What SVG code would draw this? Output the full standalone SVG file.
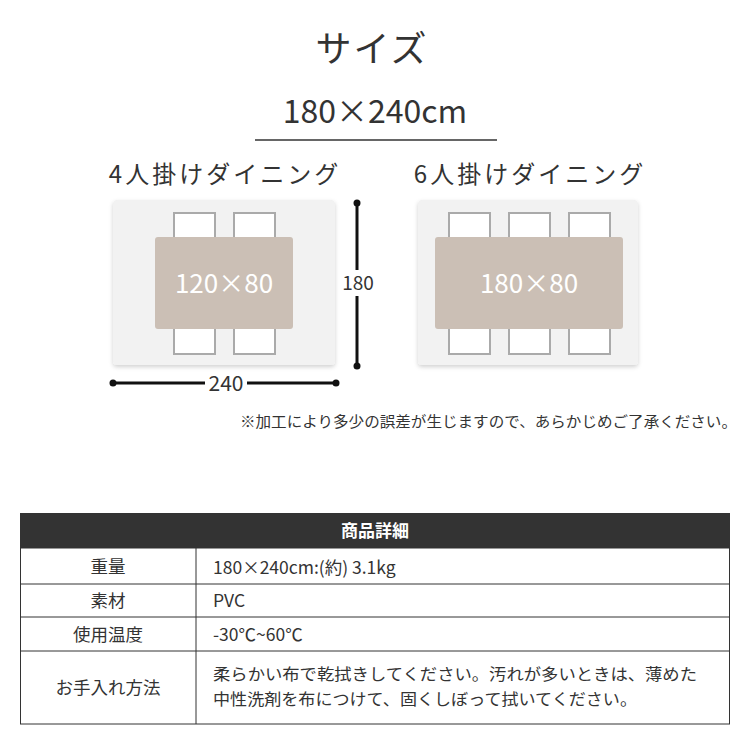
<svg xmlns="http://www.w3.org/2000/svg" width="750" height="750" viewBox="0 0 750 750">
<defs>
<filter id="sh" x="-5%" y="-5%" width="110%" height="115%"><feDropShadow dx="0" dy="2" stdDeviation="2" flood-color="#000" flood-opacity="0.18"/></filter>
</defs>
<style>
text{font-family:"Noto Sans CJK JP","Noto Sans",sans-serif;fill:#333}
.mat{fill:#f2f2f2;filter:url(#sh)}
.ch{fill:#fff;stroke:#aaa;stroke-width:2}
.tb{fill:#cbbfb5}
.tt{fill:#fff;font-size:26px;text-anchor:middle}
.dim{stroke:#111;stroke-width:3}
.c{fill:none;stroke:#333;stroke-width:1}
.td{font-size:17.5px}
.tl{font-size:16px}
</style>
<rect width="750" height="750" fill="#fff"/>
<text x="372" y="62" font-size="36" text-anchor="middle" fill="#555" letter-spacing="2">サイズ</text>
<text x="375" y="123" font-size="32" text-anchor="middle" fill="#333">180×240cm</text>
<line x1="255" y1="140" x2="497" y2="140" stroke="#333" stroke-width="1.5"/>
<text x="225" y="183" font-size="24" text-anchor="middle" letter-spacing="3" fill="#555">4人掛けダイニング</text>
<text x="530" y="183" font-size="24" text-anchor="middle" letter-spacing="3" fill="#555">6人掛けダイニング</text>
<g id="left">
<rect class="mat" x="113" y="200" width="222" height="165" rx="4"/>
<rect class="ch" x="174" y="213" width="41" height="27"/>
<rect class="ch" x="234" y="213" width="41" height="27"/>
<rect class="ch" x="174" y="327" width="41" height="27"/>
<rect class="ch" x="234" y="327" width="41" height="27"/>
<rect class="tb" x="155" y="237" width="138" height="92" rx="3"/>
<text class="tt" x="224" y="293">120×80</text>
</g>
<g id="right">
<rect class="mat" x="418" y="200" width="220" height="165" rx="4"/>
<rect class="ch" x="449" y="213" width="41" height="27"/>
<rect class="ch" x="509" y="213" width="41" height="27"/>
<rect class="ch" x="569" y="213" width="41" height="27"/>
<rect class="ch" x="449" y="327" width="41" height="27"/>
<rect class="ch" x="509" y="327" width="41" height="27"/>
<rect class="ch" x="569" y="327" width="41" height="27"/>
<rect class="tb" x="435" y="237" width="188" height="92" rx="3"/>
<text class="tt" x="529" y="293">180×80</text>
</g>
<g id="dims">
<line class="dim" x1="357" y1="203" x2="357" y2="366"/>
<circle cx="357" cy="203" r="3.5" fill="#111"/><circle cx="357" cy="366" r="3.5" fill="#111"/>
<rect x="340" y="270" width="36" height="26" fill="#fff"/>
<text x="358" y="290" font-size="19" text-anchor="middle">180</text>
<line class="dim" x1="113" y1="383" x2="205" y2="383"/>
<line class="dim" x1="247" y1="383" x2="336" y2="383"/>
<circle cx="113" cy="383" r="3.5" fill="#111"/><circle cx="336" cy="383" r="3.5" fill="#111"/>
<text x="226" y="391" font-size="21" text-anchor="middle">240</text>
</g>
<text x="240" y="427" font-size="14.5" textLength="497" lengthAdjust="spacingAndGlyphs">※加工により多少の誤差が生じますので、あらかじめご了承ください。</text>
<g id="table">
<rect x="20" y="513" width="710" height="35" fill="#333"/>
<text x="375" y="537" font-size="17" text-anchor="middle" style="fill:#fff" font-weight="bold">商品詳細</text>
<rect class="c" x="20.5" y="548" width="709" height="176"/>
<line class="c" x1="20" y1="584" x2="730" y2="584"/>
<line class="c" x1="20" y1="617" x2="730" y2="617"/>
<line class="c" x1="20" y1="651" x2="730" y2="651"/>
<line class="c" x1="196" y1="548" x2="196" y2="724"/>
<text class="td" x="108" y="573" text-anchor="middle">重量</text>
<text class="td" x="108" y="607" text-anchor="middle">素材</text>
<text class="td" x="108" y="641" text-anchor="middle">使用温度</text>
<text class="td" x="108" y="694" text-anchor="middle">お手入れ方法</text>
<text class="td" x="213" y="574">180×240cm:(約) 3.1kg</text>
<text class="td" x="213" y="607">PVC</text>
<text class="td" x="213" y="641">-30℃~60℃</text>
<text class="tl" x="213" y="680" textLength="484" lengthAdjust="spacingAndGlyphs">柔らかい布で乾拭きしてください。汚れが多いときは、薄めた</text>
<text class="tl" x="213" y="705" textLength="424" lengthAdjust="spacingAndGlyphs">中性洗剤を布につけて、固くしぼって拭いてください。</text>
</g>
</svg>
